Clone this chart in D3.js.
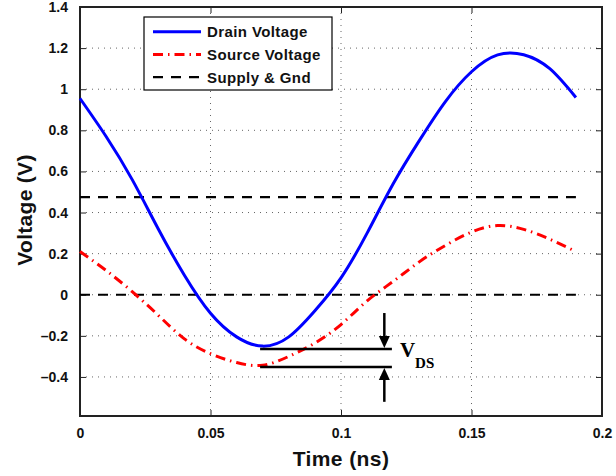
<!DOCTYPE html>
<html>
<head>
<meta charset="utf-8">
<script src="https://cdn.jsdelivr.net/npm/d3@7"></script>
<style>
  body { margin: 0; background: #fff; }
  svg { display: block; }
  text { font-family: "Liberation Sans", Arial, sans-serif; font-weight: bold; }
</style>
</head>
<body>
<script>
'use strict';

// time samples (ns)
const time = [0, 0.01, 0.02, 0.03, 0.04, 0.05, 0.06, 0.07, 0.08, 0.09,
  0.10, 0.11, 0.12, 0.13, 0.14, 0.15, 0.16, 0.17, 0.18, 0.19];
const drainVoltage = [0.955, 0.77, 0.56, 0.32, 0.095, -0.09, -0.205, -0.25, -0.205, -0.078,
  0.082, 0.30, 0.54, 0.75, 0.94, 1.085, 1.167, 1.168, 1.10, 0.96];
const sourceVoltage = [0.21, 0.118, 0.015, -0.10, -0.215, -0.287, -0.33, -0.343, -0.30, -0.235,
  -0.145, -0.03, 0.065, 0.16, 0.24, 0.305, 0.337, 0.318, 0.27, 0.21];
const supplyLevels = [0.475, 0];
const supplyRange = [0, 0.19];

const xTicks = [0, 0.05, 0.1, 0.15, 0.2];
const yTicks = [-0.4, -0.2, 0, 0.2, 0.4, 0.6, 0.8, 1, 1.2, 1.4];
const legendLabels = ["Drain Voltage", "Source Voltage", "Supply & Gnd"];

// V_DS marker: two levels, spanning time range, arrows at one time
const vdsLevels = [-0.264, -0.352];
const vdsRange = [0.069, 0.1195];
const vdsArrowTime = 0.1166;
const vdsArrowTails = [-0.089, -0.521];

(function() {

  window.onload = function() {

    let width = 616;
    let height = 476;
    let margin = {left: 80, top: 7, right: 14, bottom: 60};

    let svg = d3.select("body")
      .append("svg")
      .attr("width", width)
      .attr("height", height);

    let x = d3.scaleLinear()
      .domain([0, 0.2])
      .range([margin.left, width - margin.right]);
    let y = d3.scaleLinear()
      .domain([-0.59, 1.4])
      .range([height - margin.bottom, margin.top]);

    let x0 = x.range()[0], x1 = x.range()[1];
    let y0 = y.range()[0], y1 = y.range()[1];

    // grid
    let grid = svg.append("g")
      .attr("stroke", "#666")
      .attr("stroke-width", 1)
      .attr("stroke-dasharray", "1,5");
    grid.selectAll("line.gx")
      .data(xTicks.slice(1, -1))
      .enter()
      .append("line")
      .attr("x1", d => x(d)).attr("x2", d => x(d))
      .attr("y1", y0).attr("y2", y1);
    grid.selectAll("line.gy")
      .data(yTicks.slice(0, -1))
      .enter()
      .append("line")
      .attr("class", "gy")
      .attr("x1", x0).attr("x2", x1)
      .attr("y1", d => y(d)).attr("y2", d => y(d));

    // axes with inward ticks on all sides
    let tickFmt = d3.format("~g");
    let axB = svg.append("g")
      .attr("transform", "translate(0," + y0 + ")")
      .call(d3.axisBottom(x).tickValues(xTicks).tickSize(-6).tickPadding(12).tickFormat(tickFmt));
    let axT = svg.append("g")
      .attr("transform", "translate(0," + y1 + ")")
      .call(d3.axisTop(x).tickValues(xTicks).tickSize(-6).tickFormat(""));
    let axL = svg.append("g")
      .attr("transform", "translate(" + x0 + ",0)")
      .call(d3.axisLeft(y).tickValues(yTicks).tickSize(-6).tickPadding(12)
        .tickFormat(d => d < 0 ? "\u2013" + tickFmt(-d) : tickFmt(d)));
    let axR = svg.append("g")
      .attr("transform", "translate(" + x1 + ",0)")
      .call(d3.axisRight(y).tickValues(yTicks).tickSize(-6).tickFormat(""));

    [axB, axT, axL, axR].forEach(a => {
      a.select(".domain").remove();
      a.selectAll(".tick line").attr("stroke", "#222").attr("stroke-width", 1);
      a.selectAll("text")
        .attr("fill", "#111")
        .style("font-size", "14px")
        .style("font-family", "'Liberation Sans', Arial, sans-serif")
        .style("font-weight", "bold");
    });

    // frame
    svg.append("rect")
      .attr("x", x0).attr("y", y1)
      .attr("width", x1 - x0).attr("height", y0 - y1)
      .attr("fill", "none")
      .attr("stroke", "#222")
      .attr("stroke-width", 2);

    // supply & gnd
    svg.append("g")
      .selectAll("line")
      .data(supplyLevels)
      .enter()
      .append("line")
      .attr("x1", x(supplyRange[0])).attr("x2", x(supplyRange[1]))
      .attr("y1", d => y(d)).attr("y2", d => y(d))
      .attr("stroke", "#000")
      .attr("stroke-width", 2.2)
      .attr("stroke-dasharray", "10,8");

    let line = d3.line()
      .x(d => x(d[0]))
      .y(d => y(d[1]))
      .curve(d3.curveNatural);

    svg.append("path")
      .datum(time.map((t, i) => [t, sourceVoltage[i]]))
      .attr("fill", "none")
      .attr("stroke", "#ff0000")
      .attr("stroke-width", 3)
      .attr("stroke-dasharray", "10,5,1.5,5")
      .attr("d", line);

    svg.append("path")
      .datum(time.map((t, i) => [t, drainVoltage[i]]))
      .attr("fill", "none")
      .attr("stroke", "#0000ff")
      .attr("stroke-width", 3)
      .attr("d", line);

    // V_DS annotation
    let ann = svg.append("g");
    ann.selectAll("line.lvl")
      .data(vdsLevels)
      .enter()
      .append("line")
      .attr("x1", x(vdsRange[0])).attr("x2", x(vdsRange[1]))
      .attr("y1", d => y(d)).attr("y2", d => y(d))
      .attr("stroke", "#000")
      .attr("stroke-width", 2.5);
    ann.selectAll("line.arr")
      .data(vdsArrowTails)
      .enter()
      .append("line")
      .attr("x1", x(vdsArrowTime)).attr("x2", x(vdsArrowTime))
      .attr("y1", d => y(d))
      .attr("y2", (d, i) => y(vdsLevels[i]) + (i === 0 ? -10 : 10))
      .attr("stroke", "#000")
      .attr("stroke-width", 2.5);
    ann.selectAll("path")
      .data(vdsLevels)
      .enter()
      .append("path")
      .attr("fill", "#000")
      .attr("d", (d, i) => {
        let ax = x(vdsArrowTime), ay = y(d) + (i === 0 ? -1 : 1);
        let s = i === 0 ? -1 : 1;
        return "M" + ax + "," + ay + "L" + (ax - 5.5) + "," + (ay + s * 12) +
          "L" + (ax + 5.5) + "," + (ay + s * 12) + "Z";
      });
    let vds = ann.append("text")
      .attr("x", x(vdsRange[1]) + 8)
      .attr("y", y(vdsLevels[0]) + 8)
      .style("font-family", "'Liberation Serif', 'Times New Roman', serif")
      .style("font-size", "21px")
      .attr("fill", "#000");
    vds.append("tspan").text("V");
    vds.append("tspan")
      .attr("dy", 11)
      .style("font-size", "15px")
      .text("DS");

    // axis titles
    svg.append("text")
      .attr("x", (x0 + x1) / 2)
      .attr("y", 466)
      .attr("text-anchor", "middle")
      .style("font-size", "21px")
      .style("letter-spacing", "0.4px")
      .attr("fill", "#111")
      .text("Time (ns)");
    svg.append("text")
      .attr("transform", "translate(32," + 210 + ") rotate(-90)")
      .attr("text-anchor", "middle")
      .style("font-size", "21px")
      .style("letter-spacing", "0.3px")
      .attr("fill", "#111")
      .text("Voltage (V)");

    // legend
    let legend = svg.append("g");
    legend.append("rect")
      .attr("x", 144).attr("y", 17)
      .attr("width", 188).attr("height", 73)
      .attr("fill", "#fff")
      .attr("stroke", "#000")
      .attr("stroke-width", 1.2);
    let styles = [
      {color: "#0000ff", dash: null},
      {color: "#ff0000", dash: "10,5,1.5,5"},
      {color: "#000", dash: "10,8"}
    ];
    let rows = legend.selectAll("g.row")
      .data(legendLabels)
      .enter()
      .append("g")
      .attr("transform", (d, i) => "translate(0," + (31.7 + i * 22.7) + ")");
    rows.append("line")
      .attr("x1", 153).attr("x2", 201)
      .attr("y1", 0).attr("y2", 0)
      .attr("stroke", (d, i) => styles[i].color)
      .attr("stroke-width", (d, i) => i === 2 ? 2.2 : 3)
      .attr("stroke-dasharray", (d, i) => styles[i].dash);
    rows.append("text")
      .attr("x", 207)
      .attr("y", 5.5)
      .style("font-size", "15px")
      .style("letter-spacing", "0.4px")
      .attr("fill", "#111")
      .text(d => d);
  };
})();
</script>
</body>
</html>
